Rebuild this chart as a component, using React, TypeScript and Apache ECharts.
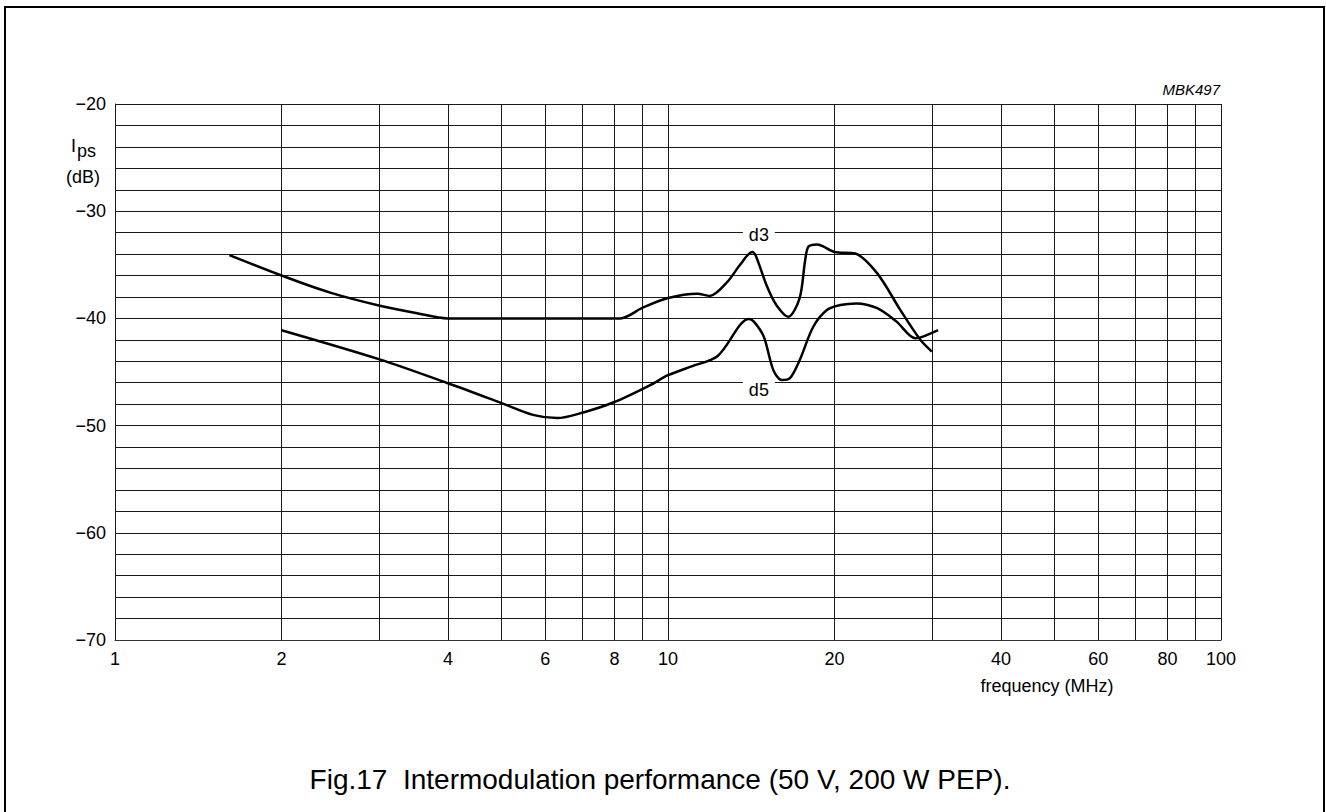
import React, { useEffect, useRef } from 'react';
import * as echarts from 'echarts';

// d3 curve: frequency (MHz) and level (dB)
const d3Freq = [1.61, 2, 2.45, 3, 3.5, 4, 5, 6, 7, 8.2, 9.0, 10, 11.3, 11.9, 12.8, 13.5, 14.2, 14.4, 15.1, 15.7, 16.5, 17.3, 17.7, 17.95, 18.6, 20.0, 21.8, 23.9, 26.3, 28.6, 30.0];
const d3Level = [-34.1, -36.0, -37.6, -38.8, -39.5, -40, -40, -40, -40, -40, -39.0, -38.1, -37.7, -37.9, -36.6, -35.0, -33.8, -34.1, -37.0, -38.75, -39.85, -38.1, -34.6, -33.3, -33.1, -33.8, -33.95, -35.8, -39.2, -42.0, -43.1];

// d5 curve
const d5Freq = [2, 3, 4, 5, 5.7, 6.3, 7.0, 8.0, 9.3, 10, 11.0, 12.3, 14.0, 14.3, 14.9, 15.5, 16.05, 16.6, 17.3, 18.3, 19.4, 20.5, 21.9, 23.9, 25.9, 28.0, 28.9, 30.8];
const d5Level = [-41.1, -43.8, -46.05, -47.9, -49.0, -49.3, -48.8, -47.8, -46.2, -45.3, -44.5, -43.5, -40.05, -40.3, -41.7, -44.8, -45.75, -45.6, -43.9, -40.8, -39.2, -38.75, -38.6, -39.05, -40.3, -41.85, -41.7, -41.1];

// curve name labels
const curveNames = ['d3', 'd5'];
const curveNameFreq = [14.6, 14.6];
const curveNameLevel = [-32.2, -46.65];

// grid / ticks
const xGridValues = [1, 2, 3, 4, 5, 6, 7, 8, 9, 10, 20, 30, 40, 50, 60, 70, 80, 90, 100];
const xTickLabels = [1, 2, 4, 6, 8, 10, 20, 40, 60, 80, 100];
const yMin = -70;
const yMax = -20;
const yInterval = 10;

const FONT = '"Liberation Sans", Arial, Helvetica, sans-serif';

export default function App() {
  const ref = useRef<HTMLDivElement>(null);

  useEffect(() => {
    if (!ref.current) return;
    const chart = echarts.init(ref.current, undefined, { renderer: 'svg' });

    const gridColor = '#1a1a1a';

    const option: any = {
      animation: false,
      backgroundColor: '#fff',
      textStyle: { fontFamily: FONT },
      grid: { left: 115, right: 105, top: 104, bottom: 172, containLabel: false },
      xAxis: {
        type: 'log',
        logBase: 10,
        min: 1,
        max: 100,
        axisLine: { show: true, lineStyle: { color: '#333', width: 1 } },
        axisTick: { show: false },
        axisLabel: { show: false },
        splitLine: { show: true, lineStyle: { color: gridColor, width: 1 } },
      },
      yAxis: {
        type: 'value',
        min: yMin,
        max: yMax,
        interval: yInterval,
        axisLine: { show: true, lineStyle: { color: '#333', width: 1 } },
        axisTick: { show: false },
        axisLabel: {
          color: '#000',
          fontSize: 18,
          fontFamily: FONT,
          margin: 9,
          formatter: (v: number) => String(v).replace('-', '\u2212'),
        },
        splitLine: { show: true, lineStyle: { color: gridColor, width: 1 } },
        minorTick: { show: false, splitNumber: 5 },
        minorSplitLine: { show: true, lineStyle: { color: gridColor, width: 1 } },
      },
      series: [
        {
          name: 'd3',
          type: 'line',
          data: d3Freq.map((f, i) => [f, d3Level[i]]),
          smooth: 0.3,
          showSymbol: false,
          symbol: 'none',
          lineStyle: { color: '#000', width: 2.5 },
          itemStyle: { color: '#000' },
          z: 5,
          markLine: {
            silent: true,
            symbol: ['none', 'none'],
            animation: false,
            lineStyle: { color: gridColor, width: 1, type: 'solid' },
            emphasis: { disabled: true },
            data: xGridValues.map((v) => ({
              xAxis: v,
              label: {
                show: xTickLabels.includes(v),
                position: 'start',
                distance: 10,
                formatter: String(v),
                color: '#000',
                fontSize: 18,
                fontFamily: FONT,
              },
            })),
          },
        },
        {
          name: 'd5',
          type: 'line',
          data: d5Freq.map((f, i) => [f, d5Level[i]]),
          smooth: 0.3,
          showSymbol: false,
          symbol: 'none',
          lineStyle: { color: '#000', width: 2.5 },
          itemStyle: { color: '#000' },
          z: 5,
        },
        {
          name: 'labels',
          type: 'scatter',
          symbol: 'rect',
          symbolSize: [32, 16],
          z: 6,
          silent: true,
          itemStyle: { color: '#fff', opacity: 1 },
          data: curveNames.map((n, i) => ({ name: n, value: [curveNameFreq[i], curveNameLevel[i]] })),
          label: {
            show: true,
            position: 'inside',
            formatter: '{b}',
            color: '#000',
            opacity: 1,
            textBorderWidth: 0,
            fontSize: 18,
            fontFamily: FONT,
          },
          emphasis: { disabled: true },
        },
      ],
      graphic: [
        {
          type: 'rect',
          shape: { x: 5, y: 7, width: 1319, height: 830 },
          style: { fill: 'none', stroke: '#000', lineWidth: 2 },
          silent: true,
        },
        {
          type: 'text',
          x: 1220,
          y: 89,
          style: { text: 'MBK497', fontSize: 15, fontStyle: 'italic', fontFamily: FONT, fill: '#000', textAlign: 'right', textVerticalAlign: 'middle' },
        },
        {
          type: 'text',
          x: 71,
          y: 146,
          style: { text: 'I', fontSize: 18, fontFamily: FONT, fill: '#000', textAlign: 'left', textVerticalAlign: 'middle' },
        },
        {
          type: 'text',
          x: 77,
          y: 151,
          style: { text: 'ps', fontSize: 18, fontFamily: FONT, fill: '#000', textAlign: 'left', textVerticalAlign: 'middle' },
        },
        {
          type: 'text',
          x: 83,
          y: 177,
          style: { text: '(dB)', fontSize: 18, fontFamily: FONT, fill: '#000', textAlign: 'center', textVerticalAlign: 'middle' },
        },
        {
          type: 'text',
          x: 1047,
          y: 686,
          style: { text: 'frequency (MHz)', fontSize: 18, fontFamily: FONT, fill: '#000', textAlign: 'center', textVerticalAlign: 'middle' },
        },
        {
          type: 'text',
          x: 660,
          y: 779,
          style: { text: 'Fig.17  Intermodulation performance (50 V, 200 W PEP).', fontSize: 28, fontFamily: FONT, fill: '#000', textAlign: 'center', textVerticalAlign: 'middle' },
        },
      ],
    };

    chart.setOption(option);
    return () => chart.dispose();
  }, []);

  return (
    <div
      ref={ref}
      style={{ position: 'absolute', left: 0, top: 0, width: 1326, height: 812 }}
    />
  );
}
